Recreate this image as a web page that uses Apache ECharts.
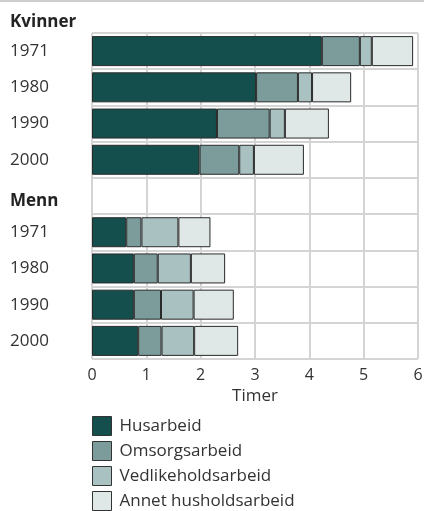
<!DOCTYPE html>
<html><head><meta charset="utf-8">
<script src="https://cdn.jsdelivr.net/npm/echarts@6/dist/echarts.min.js"></script>
<style>html,body{margin:0;padding:0;background:#fff}#c{width:424px;height:511px}</style>
</head><body><div id="c"></div>
<script>
const categories = ['1971','1980','1990','2000','','1971','1980','1990','2000'];
const husarbeid = [4.23, 3.02, 2.30, 1.98, null, 0.63, 0.77, 0.77, 0.85];
const omsorgsarbeid = [0.70, 0.77, 0.97, 0.73, null, 0.28, 0.44, 0.50, 0.43];
const vedlikeholdsarbeid = [0.22, 0.26, 0.28, 0.27, null, 0.68, 0.61, 0.60, 0.60];
const annet = [0.76, 0.72, 0.81, 0.92, null, 0.59, 0.63, 0.74, 0.81];
const xTicks = [0,1,2,3,4,5,6];
const seriesNames = ['Husarbeid','Omsorgsarbeid','Vedlikeholdsarbeid','Annet husholdsarbeid'];
const colors = ['#154f4d','#7b9c9b','#a9c1c0','#e0e8e7'];
const font = '"Open Sans", "Noto Sans", sans-serif';

const chart = echarts.init(document.getElementById('c'));
const mk = (name, data, i) => ({
  name, type: 'bar', stack: 'a', data, barWidth: 30,
  itemStyle: {color: colors[i], borderColor: '#2a2a2a', borderWidth: 1},
  emphasis: {disabled: true}
});
chart.setOption({
  animation: false,
  textStyle: {fontFamily: font},
  grid: {left: 92, right: 6, top: 33, bottom: 152, outerBoundsMode: 'none'},
  xAxis: {
    type: 'value', min: xTicks[0], max: xTicks[xTicks.length-1], interval: 1,
    name: 'Timer', nameLocation: 'middle', nameGap: 28,
    nameTextStyle: {fontSize: 17, color: '#333', fontFamily: font},
    axisLine: {show: false}, axisTick: {show: false},
    axisLabel: {fontSize: 16, color: '#333', margin: 8, fontFamily: font},
    splitLine: {show: true, lineStyle: {color: '#d4d4d4', width: 2}}
  },
  yAxis: {
    type: 'category', data: categories, inverse: true,
    axisLine: {show: false}, axisTick: {show: false},
    axisLabel: {fontSize: 17, color: '#333', margin: 82, align: 'left', fontFamily: font},
    splitLine: {show: true, lineStyle: {color: '#d4d4d4', width: 2}}
  },
  legend: {
    orient: 'vertical', left: 92, top: 416, padding: 0, height: 95,
    itemWidth: 19, itemHeight: 19, itemGap: 5,
    icon: 'rect',
    textStyle: {fontSize: 17, color: '#333', fontFamily: font, padding: [0, 0, 0, 3]},
    itemStyle: {borderColor: '#333', borderWidth: 1},
    data: seriesNames
  },
  graphic: [
    {type: 'line', shape: {x1: 0, y1: 1, x2: 424, y2: 1}, style: {stroke: '#cfcfcf', lineWidth: 2}},
    {type: 'text', left: 10, top: 14, style: {text: 'Kvinner', font: 'bold 17px ' + font, fill: '#222'}},
    {type: 'text', left: 10, top: 193, style: {text: 'Menn', font: 'bold 17px ' + font, fill: '#222'}}
  ],
  series: [
    mk(seriesNames[0], husarbeid, 0),
    mk(seriesNames[1], omsorgsarbeid, 1),
    mk(seriesNames[2], vedlikeholdsarbeid, 2),
    mk(seriesNames[3], annet, 3)
  ]
});
</script></body></html>
